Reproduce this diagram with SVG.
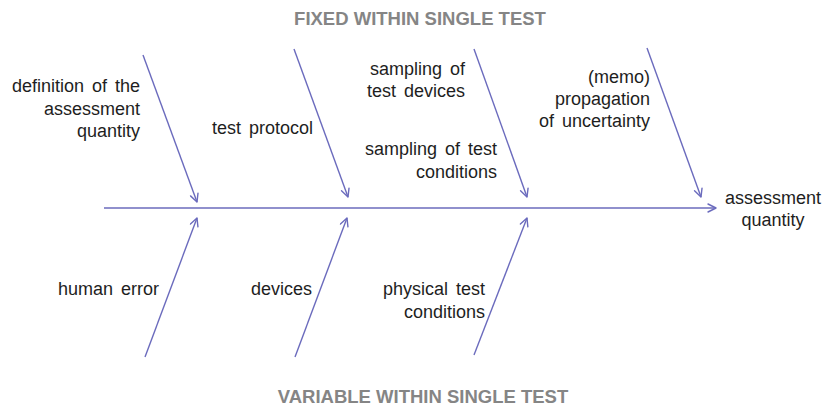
<svg xmlns="http://www.w3.org/2000/svg" width="824" height="408" viewBox="0 0 824 408">
  <defs>
    <marker id="open-head" viewBox="0 0 10 10" refX="9" refY="5" markerWidth="10" markerHeight="10" markerUnits="userSpaceOnUse" orient="auto">
      <path d="M1,1 L9,5 L1,9" fill="none" stroke="#6b6bbd" stroke-width="1.4" stroke-linecap="round" stroke-linejoin="round"/>
    </marker>
    <style>
      .conn { stroke: #6b6bbd; stroke-width: 1.4; fill: none; marker-end: url(#open-head); }
      .label { font-family: "Liberation Sans", Arial, sans-serif; font-size: 18px; word-spacing: 3px; fill: #1e1e1e; }
      .band { font-family: "Liberation Sans", Arial, sans-serif; font-size: 18.5px; font-weight: bold; fill: #858585; text-anchor: middle; }
      .r { text-anchor: end; }
      .c { text-anchor: middle; }
    </style>
  </defs>
  <rect width="824" height="408" fill="#ffffff"/>

  <!-- band headings -->
  <text id="fixed-heading" class="band" x="420" y="25">FIXED WITHIN SINGLE TEST</text>
  <text id="variable-heading" class="band" x="423" y="403">VARIABLE WITHIN SINGLE TEST</text>

  <!-- spine and cause arrows -->
  <g id="connectors">
    <line class="conn" x1="104" y1="208" x2="716" y2="208"/>
    <line class="conn" x1="143" y1="55" x2="197" y2="202"/>
    <line class="conn" x1="294" y1="49" x2="348" y2="197"/>
    <line class="conn" x1="474" y1="49" x2="527" y2="197"/>
    <line class="conn" x1="647" y1="48" x2="701" y2="197"/>
    <line class="conn" x1="145" y1="357" x2="197" y2="218"/>
    <line class="conn" x1="295" y1="357" x2="347" y2="218"/>
    <line class="conn" x1="474" y1="355" x2="527" y2="218"/>
  </g>

  <!-- upper causes -->
  <g id="definition">
    <text class="label r" x="140" y="92">definition of the</text>
    <text class="label r" x="140" y="114.5">assessment</text>
    <text class="label r" x="140" y="137">quantity</text>
  </g>
  <g id="test-protocol">
    <text class="label r" x="313" y="134">test protocol</text>
  </g>
  <g id="sampling-devices">
    <text class="label r" x="465" y="75">sampling of</text>
    <text class="label r" x="465" y="97">test devices</text>
  </g>
  <g id="sampling-conditions">
    <text class="label r" x="497" y="155">sampling of test</text>
    <text class="label r" x="497" y="178">conditions</text>
  </g>
  <g id="propagation">
    <text class="label r" x="650" y="83">(memo)</text>
    <text class="label r" x="650" y="105">propagation</text>
    <text class="label r" x="650" y="127">of uncertainty</text>
  </g>

  <!-- effect -->
  <g id="assessment-quantity">
    <text class="label c" x="773" y="204">assessment</text>
    <text class="label c" x="773" y="226">quantity</text>
  </g>

  <!-- lower causes -->
  <g id="human-error">
    <text class="label r" x="159" y="295">human error</text>
  </g>
  <g id="devices">
    <text class="label r" x="312" y="295">devices</text>
  </g>
  <g id="physical-conditions">
    <text class="label r" x="485" y="295">physical test</text>
    <text class="label r" x="485" y="318">conditions</text>
  </g>
</svg>
